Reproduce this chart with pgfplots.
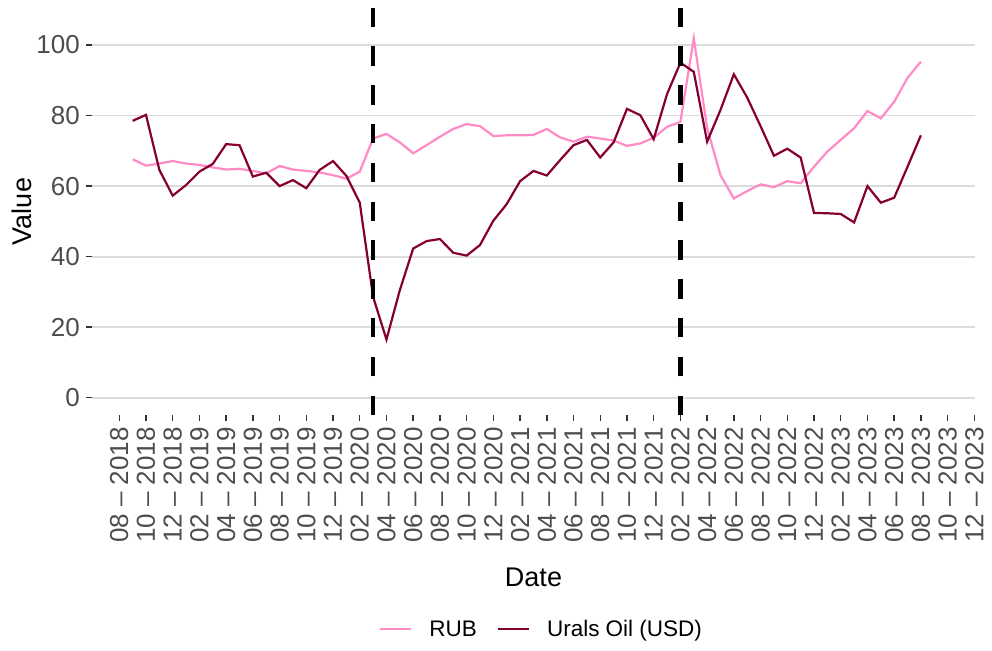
\documentclass[border=0pt]{standalone}
\usepackage{fontspec}
\setmainfont{Liberation Sans}
\usepackage{pgfplots}
\pgfplotsset{compat=1.18}
\definecolor{rubc}{HTML}{FF8AC5}
\definecolor{uralc}{HTML}{85002F}
\definecolor{tickgray}{HTML}{4D4D4D}
\definecolor{gridgray}{HTML}{DCDCDC}
\begin{document}
\begin{tikzpicture}
\path[use as bounding box] (-92pt,-235pt) rectangle (900pt,415pt);
\begin{axis}[
  at={(0pt,0pt)}, anchor=south west,
  scale only axis, width=883pt, height=407pt,
  xmin=-2.04, xmax=64.05, ymin=-4.9, ymax=110.5,
  axis x line*=bottom, axis y line*=left, axis line style={draw=none},
  tick align=outside, major tick length=6pt,
  tick style={color=black!80, line width=1.4pt},
  ytick={0,20,40,60,80,100},
  ymajorgrids, grid style={gridgray, line width=1.8pt},
  xtick={0,2,...,64},
  xticklabels={08 -- 2018,10 -- 2018,12 -- 2018,02 -- 2019,04 -- 2019,06 -- 2019,08 -- 2019,10 -- 2019,12 -- 2019,02 -- 2020,04 -- 2020,06 -- 2020,08 -- 2020,10 -- 2020,12 -- 2020,02 -- 2021,04 -- 2021,06 -- 2021,08 -- 2021,10 -- 2021,12 -- 2021,02 -- 2022,04 -- 2022,06 -- 2022,08 -- 2022,10 -- 2022,12 -- 2022,02 -- 2023,04 -- 2023,06 -- 2023,08 -- 2023,10 -- 2023,12 -- 2023},
  /pgf/number format/assume math mode=true,
  tick label style={font=\fontsize{26}{26}\selectfont, text=tickgray, inner sep=0pt},
  xticklabel style={rotate=90, anchor=east},
  yticklabel style={anchor=east},
  xticklabel shift=6pt, yticklabel shift=6pt,
  xlabel={Date}, ylabel={Value},
  label style={font=\fontsize{27}{27}\selectfont, text=black, inner sep=0pt},
  xlabel style={at={(axis description cs:0.5,-0.398)}, anchor=center},
  ylabel style={at={(axis description cs:-0.0793,0.5)}, anchor=center},
  legend style={at={(axis description cs:0.508,-0.526)}, anchor=center, draw=none, fill=none,
    legend columns=2, font=\fontsize{22.5}{22.5}\selectfont,
    nodes={inner sep=0pt},
    /tikz/every odd column/.append style={column sep=17pt},
    /tikz/every even column/.append style={column sep=20pt}},
  legend image code/.code={\draw[#1, line width=2.2pt] (0pt,0pt) -- (31pt,0pt);},
]
\addplot[rubc, line width=2.2pt] coordinates {
(1,67.6) (2,65.8) (3,66.4) (4,67.1) (5,66.4) (6,66.0) (7,65.3) (8,64.7) (9,64.9) (10,64.3)
(11,63.6) (12,65.7) (13,64.7) (14,64.3) (15,63.9) (16,63.1) (17,62.1) (18,64.1) (19,73.5) (20,74.8)
(21,72.4) (22,69.3) (23,71.6) (24,74.0) (25,76.2) (26,77.6) (27,77.0) (28,74.2) (29,74.4) (30,74.4)
(31,74.5) (32,76.2) (33,73.8) (34,72.6) (35,74.0) (36,73.5) (37,72.9) (38,71.4) (39,72.1) (40,73.7)
(41,76.8) (42,78.2) (43,101.9) (44,76.5) (45,63.1) (46,56.5) (47,58.6) (48,60.5) (49,59.7) (50,61.4)
(51,60.8) (52,65.5) (53,69.8) (54,73.1) (55,76.4) (56,81.3) (57,79.2) (58,83.9) (59,90.7) (60,95.3)};
\addlegendentry{RUB}
\addplot[uralc, line width=2.2pt] coordinates {
(1,78.5) (2,80.2) (3,64.6) (4,57.3) (5,60.3) (6,64.1) (7,66.3) (8,71.9) (9,71.6) (10,62.7)
(11,63.8) (12,60.0) (13,61.7) (14,59.4) (15,64.6) (16,67.1) (17,62.9) (18,55.3) (19,28.6) (20,16.5)
(21,30.5) (22,42.3) (23,44.4) (24,45.0) (25,41.1) (26,40.3) (27,43.3) (28,50.2) (29,54.9) (30,61.4)
(31,64.3) (32,63.0) (33,67.4) (34,71.6) (35,73.1) (36,68.1) (37,72.4) (38,81.9) (39,80.1) (40,73.3)
(41,86.1) (42,95.0) (43,92.4) (44,72.6) (45,81.6) (46,91.7) (47,85.1) (48,77.0) (49,68.6) (50,70.6)
(51,68.1) (52,52.4) (53,52.3) (54,52.1) (55,49.7) (56,60.0) (57,55.3) (58,56.7) (59,65.5) (60,74.4)};
\addlegendentry{Urals Oil (USD)}
\addplot[black, line width=4.7pt, dash pattern=on 19.3pt off 19.5pt, forget plot] coordinates {(19,-4.9) (19,110.5)};
\addplot[black, line width=4.7pt, dash pattern=on 19.3pt off 19.5pt, forget plot] coordinates {(42,-4.9) (42,110.5)};
\end{axis}
\end{tikzpicture}
\end{document}
